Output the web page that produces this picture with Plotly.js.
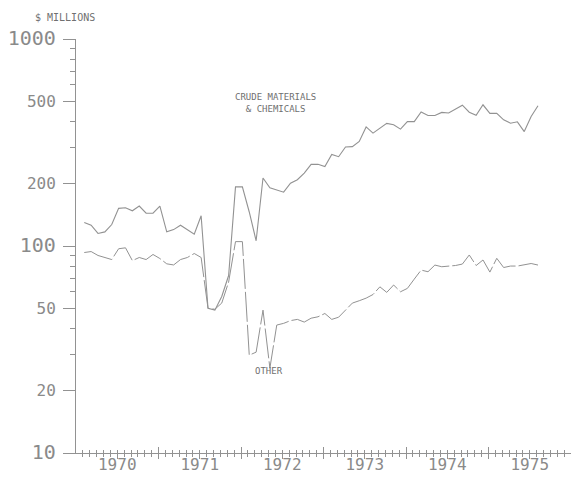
<!DOCTYPE html>
<html>
<head>
<meta charset="utf-8">
<script src="https://cdn.plot.ly/plotly-3.0.1.min.js"></script>
<style>html,body{margin:0;padding:0;background:#fff;}#chart{width:572px;height:479px;}</style>
</head>
<body>
<div id="chart"></div>
<script>
// Monthly data, Feb 1970 – Aug 1975 ($ millions)
const months = [
  "1970-02","1970-03","1970-04","1970-05","1970-06","1970-07","1970-08","1970-09","1970-10","1970-11","1970-12",
  "1971-01","1971-02","1971-03","1971-04","1971-05","1971-06","1971-07","1971-08","1971-09","1971-10","1971-11","1971-12",
  "1972-01","1972-02","1972-03","1972-04","1972-05","1972-06","1972-07","1972-08","1972-09","1972-10","1972-11","1972-12",
  "1973-01","1973-02","1973-03","1973-04","1973-05","1973-06","1973-07","1973-08","1973-09","1973-10","1973-11","1973-12",
  "1974-01","1974-02","1974-03","1974-04","1974-05","1974-06","1974-07","1974-08","1974-09","1974-10","1974-11","1974-12",
  "1975-01","1975-02","1975-03","1975-04","1975-05","1975-06","1975-07","1975-08"
];
const crudeMaterials = [
  130,126,115,117,127,152,153,148,156,144,144,
  156,117,120,126,120,114,140,50,49,57,72,193,
  193,146,106,213,191,187,182,201,209,225,248,248,
  242,277,270,301,302,320,376,351,371,391,385,367,
  399,399,444,427,427,442,439,458,479,443,428,481,
  437,437,407,392,398,357,422,476
];
const other = [
  93,94,90,88,86,97,98,85,88,86,91,
  87,82,81,86,88,92,88,50,49.5,53,67,105,
  105,29.7,30.7,49,25.7,41.5,42.3,43.6,44.2,42.9,44.8,45.5,
  47.2,44.2,45.3,49.3,53,54.4,56,58.3,63.5,59.7,64.8,60.1,
  62.4,69.2,76.5,75.1,80.9,79.4,80,80.5,81.8,90.5,80.5,85.6,
  74.8,87.2,78.7,80,80,80.9,82.3,80.9
];
const years = [1970,1971,1972,1973,1974,1975];
const yTickVals = [10,20,50,100,200,500,1000];
const yTickText = ["10","20","50","100","200","500","1000"];
const yMinorVals = [30,40,60,70,80,90,300,400,600,700,800,900];

// month string -> decimal year position (within-month offset)
const toX = m => { const [y, mo] = m.split("-").map(Number); return y + (mo - 1 + 0.2) / 12; };
const xs = months.map(toX);

const gray = "#929292";
const txt = "#8a8a8a";
const FONT = "DejaVu Sans Mono";

const yearStarts = years.slice(1);
const midYears = years.map(y => y + 0.5);
const monthTicks = [];
for (let y = 1970; y < 1976; y++) for (let k = 1; k < 12; k++) monthTicks.push(y + k / 12);

const decades = new Set([10,100,1000]);
const yText = yTickVals.map((v, i) => decades.has(v)
  ? '<span style="font-size:20px">' + yTickText[i] + '</span>' : yTickText[i]);

const traces = [
  {x: xs, y: crudeMaterials, type: "scatter", mode: "lines",
   line: {color: gray, width: 1.1}, hoverinfo: "skip", showlegend: false},
  {x: xs, y: other, type: "scatter", mode: "lines",
   line: {color: gray, width: 1.0, dash: "30px,3px"}, hoverinfo: "skip", showlegend: false},
  {x: [], y: [], xaxis: "x2", type: "scatter", showlegend: false},
  {x: [], y: [], xaxis: "x3", type: "scatter", showlegend: false}
];

const xBase = {range: [1970, 1976], showgrid: false, zeroline: false, fixedrange: true};

const layout = {
  width: 572, height: 479,
  margin: {l: 76, r: 1, t: 39, b: 26},
  paper_bgcolor: "#fff", plot_bgcolor: "#fff",
  showlegend: false,
  xaxis: Object.assign({}, xBase, {
    showline: true, linecolor: gray, linewidth: 1,
    tickmode: "array", tickvals: yearStarts.concat(midYears), ticks: "outside", ticklen: 5, tickcolor: gray,
    showticklabels: false,
    minor: {tickmode: "array", tickvals: monthTicks, ticks: "outside", ticklen: 3, tickcolor: gray}
  }),
  xaxis2: Object.assign({}, xBase, {
    overlaying: "x", anchor: "y", side: "bottom", showline: false,
    tickmode: "array", tickvals: yearStarts, ticks: "inside", ticklen: 6, tickcolor: gray,
    showticklabels: false,
    minor: {tickmode: "array", tickvals: monthTicks, ticks: "inside", ticklen: 3, tickcolor: gray}
  }),
  xaxis3: Object.assign({}, xBase, {
    overlaying: "x", anchor: "y", side: "bottom", showline: false,
    tickmode: "array", tickvals: midYears, ticktext: years.map(String),
    ticks: "",
    tickfont: {family: FONT, size: 16, color: txt}
  }),
  yaxis: {
    type: "log", range: [1, 3], showgrid: false, zeroline: false, fixedrange: true,
    showline: true, linecolor: gray, linewidth: 1,
    tickmode: "array", tickvals: yTickVals, ticktext: yText,
    ticks: "outside", ticklen: 12, tickcolor: gray,
    tickfont: {family: FONT, size: 16, color: txt}, ticklabelstandoff: 4,
    minor: {tickmode: "array", tickvals: yMinorVals, ticks: "outside", ticklen: 5, tickcolor: gray}
  },
  annotations: [
    {xref: "paper", yref: "paper", x: -0.022, y: 1.053, text: "$ MILLIONS", showarrow: false,
     font: {family: FONT, size: 10, color: "#707070"}, xanchor: "center", yanchor: "middle"},
    {xref: "x", yref: "y", x: 1972.42, y: Math.log10(493), text: "CRUDE MATERIALS<br>& CHEMICALS",
     showarrow: false, align: "center", font: {family: FONT, size: 9, color: "#707070"}},
    {xref: "x", yref: "y", x: 1972.34, y: Math.log10(24.9), text: "OTHER",
     showarrow: false, font: {family: FONT, size: 9, color: "#707070"}}
  ]
};

Plotly.newPlot("chart", traces, layout, {staticPlot: true, displayModeBar: false});
</script>
</body>
</html>
